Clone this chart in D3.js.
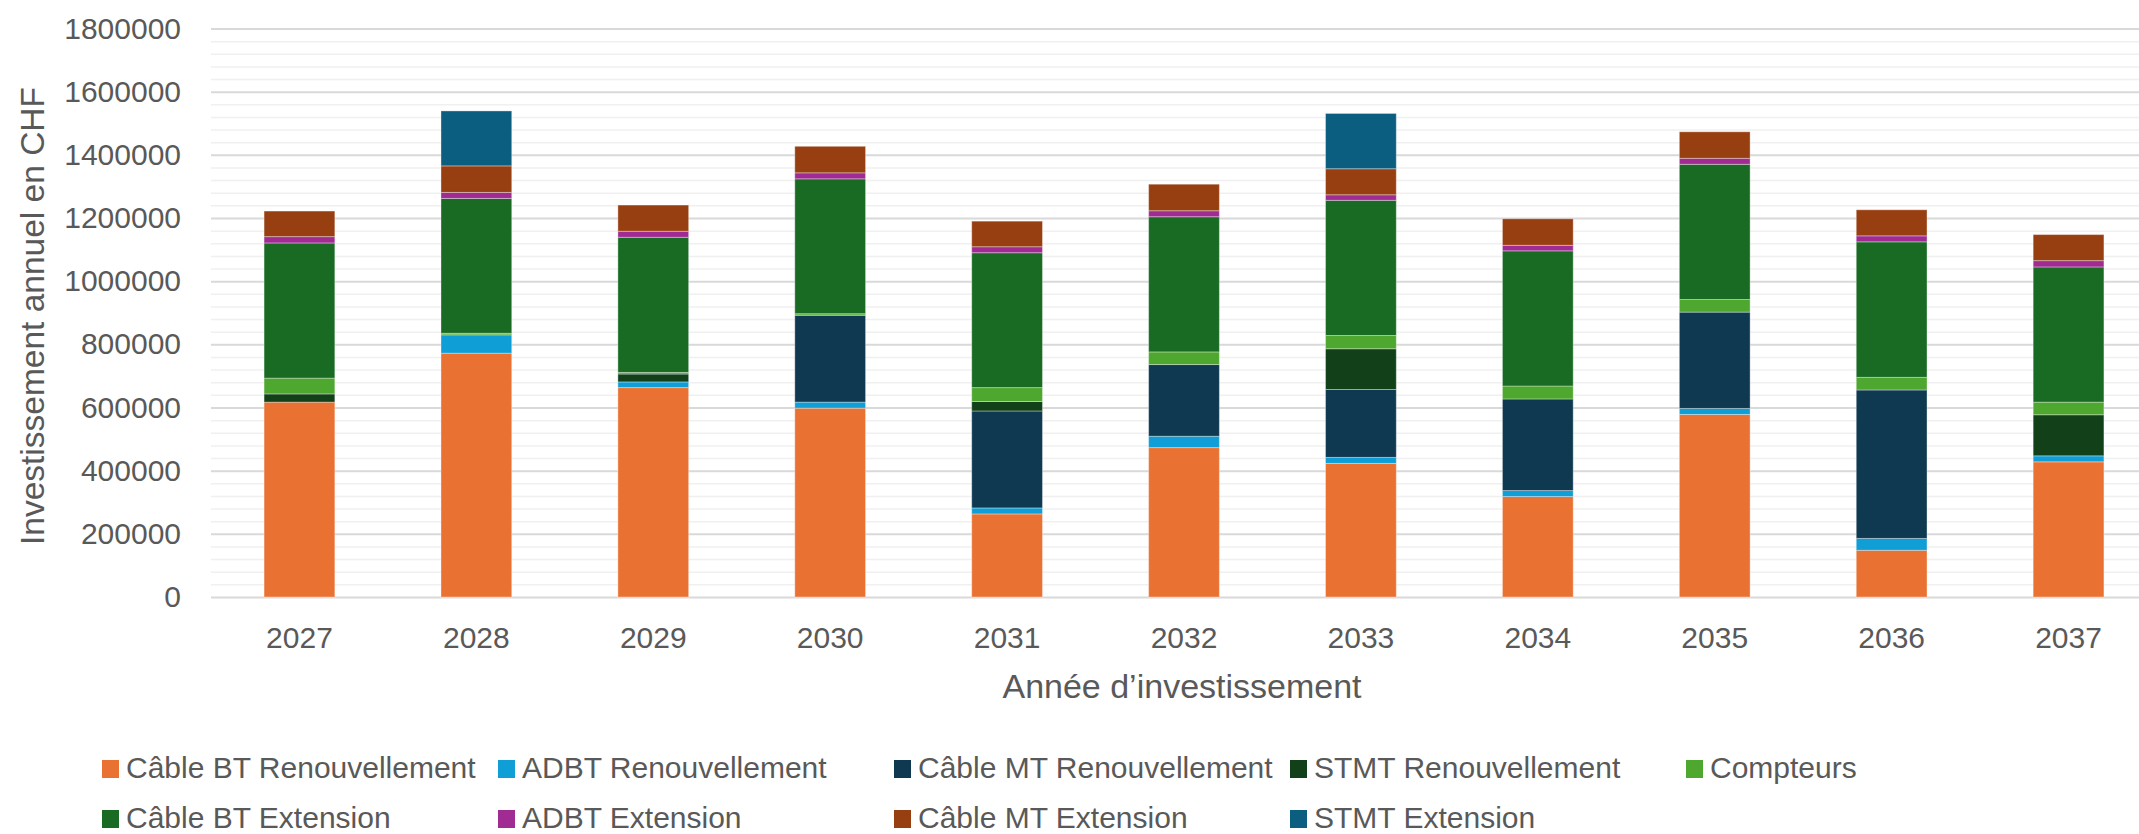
<!DOCTYPE html>
<html>
<head>
<meta charset="utf-8">
<script src="https://cdn.jsdelivr.net/npm/d3@7"></script>
<style>
  body { margin: 0; background: #fff; }
  text { font-family: "Liberation Sans", Arial, sans-serif; fill: #595959; }
</style>
</head>
<body>
<script>
// values (CHF)
const years = ["2027", "2028", "2029", "2030", "2031", "2032", "2033", "2034", "2035", "2036", "2037"];
const cableBTRen = [617000, 772000, 663000, 598000, 263000, 473000, 423000, 318000, 578000, 148000, 428000];
const adbtRen    = [0, 58000, 18000, 19000, 19000, 36000, 19000, 19000, 19000, 37500, 19000];
const cableMTRen = [0, 0, 0, 275000, 307000, 227000, 215000, 290000, 305000, 470000, 0];
const stmtRen    = [26000, 0, 25000, 0, 30000, 0, 129000, 0, 0, 0, 130000];
const compteurs  = [50000, 5000, 5000, 5000, 44000, 40000, 42000, 41000, 40000, 40000, 40000];
const cableBTExt = [428000, 427000, 428000, 427000, 427000, 428000, 428000, 428000, 428000, 429000, 428000];
const adbtExt    = [20000, 19000, 19000, 19000, 19000, 19000, 17500, 17500, 19000, 19000, 20000];
const cableMTExt = [81000, 84000, 83000, 84000, 81000, 84000, 82500, 84000, 84000, 82500, 82500];
const stmtExt    = [0, 174000, 0, 0, 0, 0, 175000, 0, 0, 0, 0];

const seriesNames = ["Câble BT Renouvellement", "ADBT Renouvellement", "Câble MT Renouvellement",
  "STMT Renouvellement", "Compteurs", "Câble BT Extension", "ADBT Extension",
  "Câble MT Extension", "STMT Extension"];
const seriesValues = [cableBTRen, adbtRen, cableMTRen, stmtRen, compteurs, cableBTExt, adbtExt, cableMTExt, stmtExt];
const colors = ["#E97132", "#0F9ED5", "#0F3950", "#124019", "#4EA72E", "#196B24", "#A02B93", "#983F12", "#0B5E80"];
const yTicks = [0, 200000, 400000, 600000, 800000, 1000000, 1200000, 1400000, 1600000, 1800000];

const width = 2139;
const height = 834;
const plotLeft = 211;
const plotRight = 2139;
const plotTop = 28.5;
const plotBottom = 597;

const table = years.map((yr, i) => {
  const row = { year: yr };
  seriesNames.forEach((s, k) => row[s] = seriesValues[k][i]);
  return row;
});

const svg = d3.select("body").append("svg")
  .attr("width", width).attr("height", height);

const x = d3.scaleBand().domain(years).range([plotLeft, 2157])
  .paddingInner(0.6).paddingOuter(0.3);
const y = d3.scaleLinear().domain([0, 1800000]).range([plotBottom, plotTop]);
const color = d3.scaleOrdinal().domain(seriesNames).range(colors);

// minor gridlines
svg.append("g")
  .attr("transform", "translate(" + plotLeft + ",0)")
  .call(d3.axisLeft(y)
    .tickValues(d3.range(0, 1800001, 40000).filter(v => v % 200000 !== 0))
    .tickSize(-(plotRight - plotLeft)).tickFormat(""))
  .call(g => g.select(".domain").remove())
  .call(g => g.selectAll("line").attr("stroke", "#F0F0F0").attr("stroke-width", 1.5));

// major gridlines + labels
svg.append("g")
  .attr("transform", "translate(" + plotLeft + ",0)")
  .call(d3.axisLeft(y).tickValues(yTicks).tickSize(-(plotRight - plotLeft))
    .tickPadding(30).tickFormat(d3.format("d")))
  .call(g => g.select(".domain").remove())
  .call(g => g.selectAll("line").attr("stroke", "#D9D9D9").attr("stroke-width", 2))
  .call(g => g.selectAll("text").attr("font-size", 30).attr("fill", "#595959")
    .style("font-family", "'Liberation Sans', Arial, sans-serif"));

// stacked bars
const stacked = d3.stack().keys(seriesNames)(table);
svg.append("g").selectAll("g").data(stacked).enter().append("g")
  .attr("fill", d => color(d.key))
  .selectAll("rect").data(d => d).enter().append("rect")
  .attr("x", d => x(d.data.year))
  .attr("width", x.bandwidth())
  .attr("y", d => y(d[1]))
  .attr("height", d => y(d[0]) - y(d[1]))
  .attr("stroke", "#ffffff").attr("stroke-opacity", 0.35).attr("stroke-width", 1);

// x axis labels
svg.append("g")
  .attr("transform", "translate(0," + plotBottom + ")")
  .call(d3.axisBottom(x).tickSize(0).tickPadding(30))
  .call(g => g.select(".domain").remove())
  .call(g => g.selectAll("text").attr("font-size", 30).attr("fill", "#595959")
    .style("font-family", "'Liberation Sans', Arial, sans-serif"));

// axis titles
svg.append("text")
  .attr("transform", "translate(44,316) rotate(-90)")
  .attr("text-anchor", "middle")
  .attr("font-size", 33.5)
  .text("Investissement annuel en CHF");

svg.append("text")
  .attr("x", 1182).attr("y", 698)
  .attr("text-anchor", "middle")
  .attr("font-size", 34)
  .text("Année d’investissement");

// legend
const legend = svg.append("g").selectAll("g").data(seriesNames).enter().append("g")
  .attr("transform", (d, i) => "translate(" + (102 + (i % 5) * 396) + "," + (i < 5 ? 778 : 828) + ")");
legend.append("rect")
  .attr("x", 0).attr("y", -18).attr("width", 17).attr("height", 18)
  .attr("fill", d => color(d));
legend.append("text")
  .attr("x", 24).attr("y", 0)
  .attr("font-size", 30)
  .text(d => d);
</script>
</body>
</html>
